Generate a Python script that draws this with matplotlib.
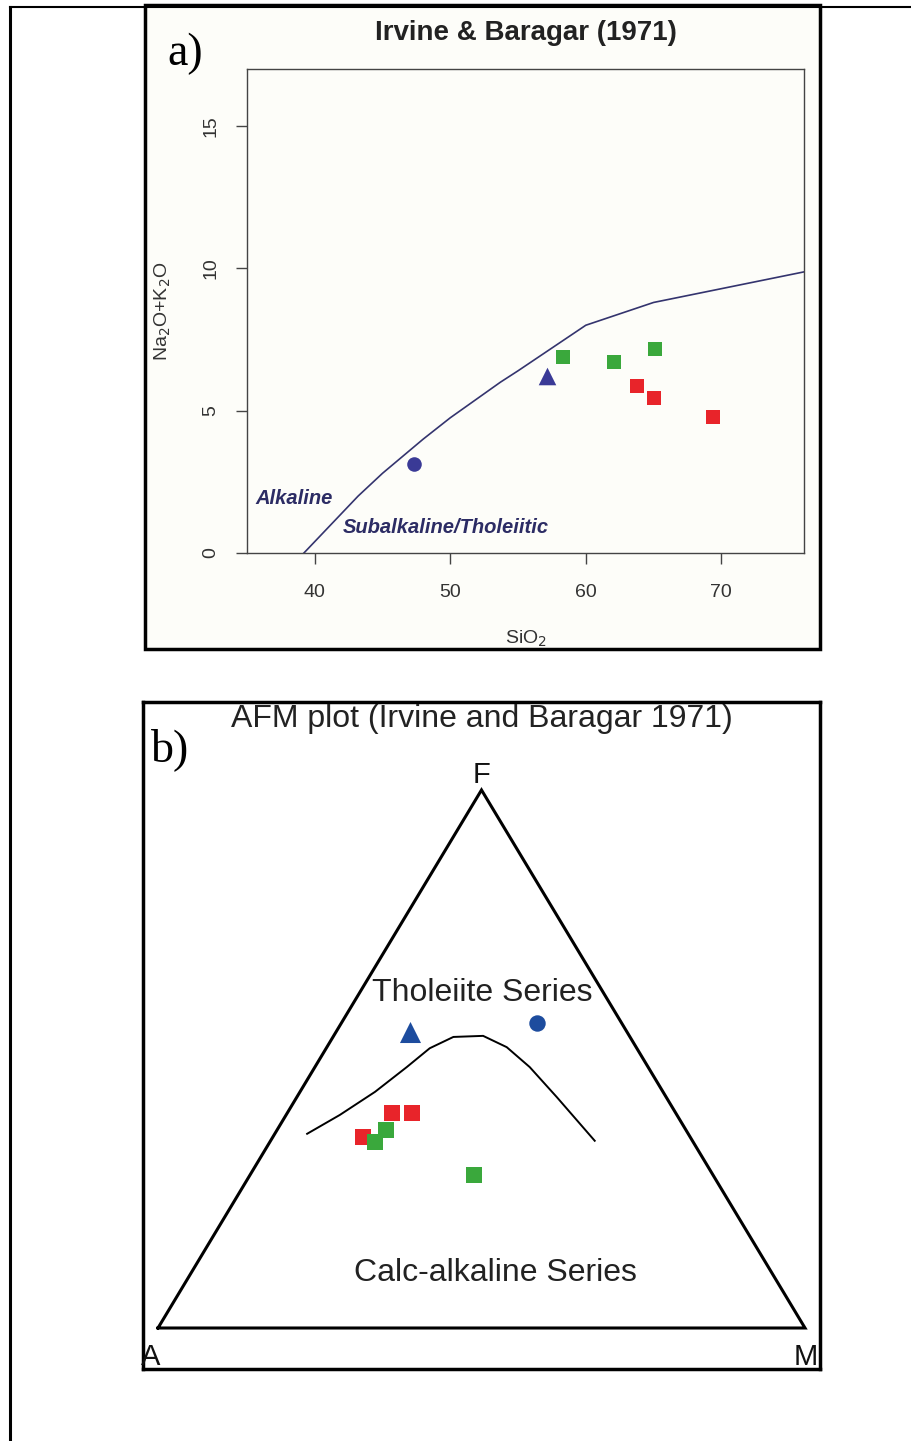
import numpy as np
import matplotlib
matplotlib.use("Agg")
import matplotlib.pyplot as plt
from matplotlib.patches import Rectangle
from matplotlib.lines import Line2D

plt.rcParams['font.family'] = ['Liberation Sans', 'DejaVu Sans']

W, H = 911, 1441

# ---------------- a) TAS data (SiO2 vs Na2O+K2O) ----------------
boundary_sio2 = [39.2, 40, 43.2, 45, 48, 50, 53.7, 55, 60, 65, 77.4]
boundary_alk = [0, 0.4, 2, 2.8, 4, 4.75, 6, 6.4, 8, 8.8, 10]

circle_sio2, circle_alk = [47.3], [3.13]
tri_sio2, tri_alk = [57.1], [6.22]
green_sio2 = [58.3, 62.1, 65.1]
green_alk = [6.88, 6.71, 7.17]
red_sio2 = [63.8, 65.0, 69.4]
red_alk = [5.87, 5.44, 4.78]

# ---------------- b) AFM data (A, F, M in %) ----------------
afm_line_A = [58.9, 52.1, 44.5, 37.3, 32.0, 27.3, 22.6, 20.0, 18.3, 16.9, 15.1]
afm_line_F = [36.1, 39.6, 43.9, 48.5, 52.0, 54.1, 54.3, 52.2, 48.5, 42.9, 34.8]
afm_line_M = [5.0, 8.3, 11.6, 14.2, 16.0, 18.6, 23.1, 27.8, 33.2, 40.2, 50.1]

afm_tri = (33.6, 55.0, 11.4)
afm_circle = (13.1, 56.7, 30.2)
afm_red_A = [43.8, 40.7, 50.6]
afm_red_F = [40.0, 40.0, 35.5]
afm_red_M = [16.2, 19.3, 13.9]
afm_green_A = [46.4, 49.2, 37.0]
afm_green_F = [36.8, 34.6, 28.4]
afm_green_M = [16.8, 16.2, 34.6]

RED = "#e8242a"
GREEN = "#3aa83c"
NAVY = "#3a3a96"
BLUE = "#1d4c9e"


def fbox(x0, y0, x1, y1):
    # pixel box (top-left origin) -> figure fraction rect
    return [x0 / W, 1 - y1 / H, (x1 - x0) / W, (y1 - y0) / H]


def tern(A, F, M):
    A, F, M = np.asarray(A, float), np.asarray(F, float), np.asarray(M, float)
    s = A + F + M
    return (M + F / 2) / s, F / s


fig = plt.figure(figsize=(W / 100, H / 100), dpi=100)
fig.patch.set_facecolor("white")

# page lines around the figure
fig.add_artist(Line2D([10 / W, 10 / W], [0, 1 - 7 / H], color="black", lw=2.2))
fig.add_artist(Line2D([10 / W, 1], [1 - 7 / H, 1 - 7 / H], color="black", lw=1.5))

# panel a frame
bx = fbox(145, 5, 820, 649)
fig.add_artist(Rectangle((bx[0], bx[1]), bx[2], bx[3], transform=fig.transFigure,
                         facecolor="#fdfdf9", edgecolor="black", lw=2.5, zorder=0))

ax = fig.add_axes(fbox(247, 69, 804, 553))
ax.set_facecolor("#fdfdf9")
ax.set_xlim(35, 76.1)
ax.set_ylim(0, 17)
for sp in ax.spines.values():
    sp.set_color("#444444")
    sp.set_linewidth(1.0)
ax.set_xticks([40, 50, 60, 70])
ax.set_yticks([0, 5, 10, 15])
ax.tick_params(direction="out", length=8, width=1, color="#444444",
               labelsize=14, labelcolor="#333333")
ax.tick_params(axis="x", pad=14)
ax.tick_params(axis="y", pad=12)
for lab in ax.get_yticklabels():
    lab.set_rotation(90)
    lab.set_va("center")

ax.plot(boundary_sio2, boundary_alk, color="#34346e", lw=1.2)
ax.scatter(green_sio2, green_alk, marker="s", s=105, color=GREEN, zorder=3, linewidths=0)
ax.scatter(red_sio2, red_alk, marker="s", s=105, color=RED, zorder=3, linewidths=0)
ax.scatter(circle_sio2, circle_alk, marker="o", s=110, color=NAVY, zorder=3, linewidths=0)
ax.scatter(tri_sio2, tri_alk, marker="^", s=160, color=NAVY, zorder=3, linewidths=0)

ax.text(35.65, 1.9, "Alkaline", fontsize=14.5, fontweight="bold", fontstyle="italic",
        color="#2c2c64", va="center")
ax.text(42.07, 0.91, "Subalkaline/Tholeiitic", fontsize=14.5, fontweight="bold",
        fontstyle="italic", color="#2c2c64", va="center")
ax.set_xlabel("SiO$_2$", fontsize=14, color="#333333", labelpad=20)
ax.set_ylabel("Na$_2$O+K$_2$O", fontsize=14, color="#333333", labelpad=21)
ax.set_title("Irvine & Baragar (1971)", fontsize=20, fontweight="bold",
             color="#222222", pad=21)

fig.text(185 / W, 1 - 54 / H, "a)", family="Liberation Serif", fontsize=33,
         ha="center", va="center")

# ---------------- panel b: AFM ternary ----------------
bx2 = fig.add_axes(fbox(143, 702, 820, 1369))
bx2.set_xlim((143 - 158) / 647, (820 - 158) / 647)
bx2.set_ylim((1328 - 1369) / 538, (1328 - 702) / 538)
bx2.set_xticks([])
bx2.set_yticks([])
for sp in bx2.spines.values():
    sp.set_linewidth(2.5)

bx2.plot([0, 1, 0.5, 0], [0, 0, 1, 0], color="black", lw=2.2, solid_joinstyle="miter")
lx, ly = tern(afm_line_A, afm_line_F, afm_line_M)
bx2.plot(lx, ly, color="black", lw=1.4)

rx, ry = tern(afm_red_A, afm_red_F, afm_red_M)
bx2.scatter(rx, ry, marker="s", s=140, color=RED, linewidths=0, zorder=3)
gx, gy = tern(afm_green_A, afm_green_F, afm_green_M)
bx2.scatter(gx, gy, marker="s", s=140, color=GREEN, linewidths=0, zorder=3)
tx, ty = tern(*afm_tri)
bx2.scatter([tx], [ty], marker="^", s=230, color=BLUE, linewidths=0, zorder=3)
cx, cy = tern(*afm_circle)
bx2.scatter([cx], [cy], marker="o", s=140, color=BLUE, linewidths=0, zorder=3)

bx2.text(0.5, 1.0 + 15 / 538, "F", fontsize=21, ha="center", va="center", color="#111111")
bx2.text((151 - 158) / 647, -29 / 538, "A", fontsize=21, ha="center", va="center", color="#111111")
bx2.text((806 - 158) / 647, -29 / 538, "M", fontsize=21, ha="center", va="center", color="#111111")
bx2.text((482 - 158) / 647, (1328 - 993) / 538, "Tholeiite Series", fontsize=23,
         ha="center", va="center", color="#222222")
bx2.text((495 - 158) / 647, (1328 - 1273) / 538, "Calc-alkaline Series", fontsize=23,
         ha="center", va="center", color="#222222")
bx2.text((482 - 158) / 647, (1328 - 719) / 538, "AFM plot (Irvine and Baragar 1971)",
         fontsize=23, ha="center", va="center", color="#222222")
fig.text(170 / W, 1 - 750 / H, "b)", family="Liberation Serif", fontsize=33,
         ha="center", va="center")

fig.savefig("out.png", dpi=100)
